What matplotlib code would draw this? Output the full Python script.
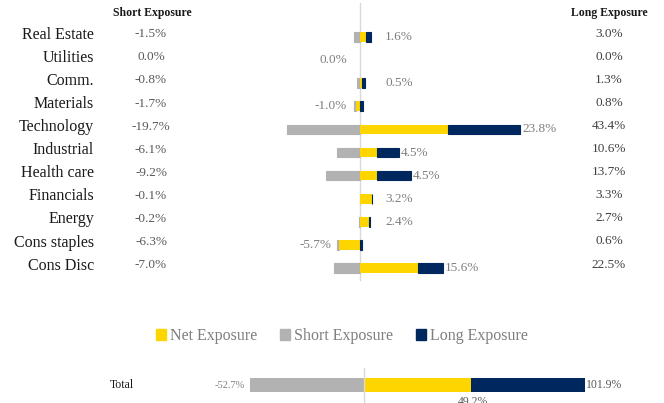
import numpy as np
import matplotlib.pyplot as plt
from matplotlib.patches import Patch
from matplotlib.transforms import blended_transform_factory

# sector exposures (%)
sectors = ["Real Estate", "Utilities", "Comm.", "Materials", "Technology", "Industrial",
           "Health care", "Financials", "Energy", "Cons staples", "Cons Disc"]
short_exp = np.array([-1.5, 0.0, -0.8, -1.7, -19.7, -6.1, -9.2, -0.1, -0.2, -6.3, -7.0])
net_exp = np.array([1.6, 0.0, 0.5, -1.0, 23.8, 4.5, 4.5, 3.2, 2.4, -5.7, 15.6])
long_exp = np.array([3.0, 0.0, 1.3, 0.8, 43.4, 10.6, 13.7, 3.3, 2.7, 0.6, 22.5])

total_short = -52.7
total_net = 49.2
total_long = 101.9

YELLOW = "#FFD500"
NAVY = "#00285E"
GREY = "#B2B2B2"

plt.rcParams['font.family'] = ['Liberation Serif', 'DejaVu Serif']

W, H = 664, 403
fig = plt.figure(figsize=(W / 100, H / 100), dpi=100)
fig.patch.set_facecolor("white")

# ---- main sector chart ----
ax = fig.add_axes([0, 103 / H, 1, 300 / H])
ax.set_xlim(-360 / 3.69, (W - 360) / 3.69)
ax.set_ylim(11.385, -1.602)
ax.axis("off")

y = np.arange(len(sectors))
pos = net_exp >= 0
bh = 0.42

# net bar
ax.barh(y, net_exp, height=bh, color=YELLOW, zorder=3)
# long part: stacked on net when net is positive
lw_long = np.where(pos, long_exp - net_exp, long_exp)
ax.barh(y, lw_long, left=np.where(pos, net_exp, 0), height=bh, color=NAVY,
        edgecolor=np.where(lw_long != 0, NAVY, "none"), lw=0.8, zorder=3)
# short part: stacked on net when net is negative
lw_short = np.where(pos, short_exp, short_exp - net_exp)
ax.barh(y, lw_short, left=np.where(pos, 0, net_exp), height=bh, color=GREY,
        edgecolor=np.where(lw_short != 0, GREY, "none"), lw=0.8, zorder=2.9)

ax.axvline(0, ymin=0.067, ymax=0.99, color="#D9D9D9", lw=1, zorder=2)

# net labels
for i in range(len(sectors)):
    n = net_exp[i]
    if n > 0:
        ax.text(max(long_exp[i] + 0.5, 6.8), i, f"{n:.1f}%", ha="left", va="center",
                fontsize=9.5, color="#7F7F7F")
    else:
        xr = min(min(short_exp[i], n) - 1.3, -3.5)
        ax.text(xr, i, f"{n:.1f}%", ha="right", va="center", fontsize=9.5, color="#7F7F7F")

# table columns
tr = blended_transform_factory(fig.transFigure, ax.transData)
for i, s in enumerate(sectors):
    ax.text(94 / W, i - 0.1, s, transform=tr, ha="right", va="center",
            fontsize=11.5, color="#1A1A1A")
    ax.text(151 / W, i - 0.12, f"{short_exp[i]:.1f}%", transform=tr, ha="center",
            va="center", fontsize=9.5, color="#595959")
    ax.text(609 / W, i - 0.15, f"{long_exp[i]:.1f}%", transform=tr, ha="center",
            va="center", fontsize=9.5, color="#404040")

ax.text(152 / W, -1.04, "Short Exposure", transform=tr, ha="center", va="center",
        fontsize=8.5, fontweight="bold", color="#1A1A1A")
ax.text(609 / W, -1.04, "Long Exposure", transform=tr, ha="center", va="center",
        fontsize=8.5, fontweight="bold", color="#1A1A1A")

# legend
handles = [Patch(color=YELLOW, label="Net Exposure"),
           Patch(color=GREY, label="Short Exposure"),
           Patch(color=NAVY, label="Long Exposure")]
leg = fig.legend(handles=handles, loc="center", bbox_to_anchor=(342 / W, 1 - 336 / H),
                 ncol=3, frameon=False, fontsize=11.5, handlelength=0.65, handleheight=0.65,
                 handletextpad=0.25, columnspacing=1.4)
for t in leg.get_texts():
    t.set_color("#7F7F7F")

# ---- total bar ----
ax2 = fig.add_axes([0, 0, 1, 43 / H])
ax2.set_xlim(-364 / 2.17, (W - 364) / 2.17)
ax2.set_ylim(18, -25)
ax2.axis("off")

ax2.barh([0], [total_net], height=14, color=YELLOW, zorder=3)
ax2.barh([0], [total_long - total_net], left=[total_net], height=14, color=NAVY, zorder=3)
ax2.barh([0], [total_short], height=14, color=GREY, zorder=3)
ax2.axvline(0, ymin=0, ymax=35 / 43, color="#D9D9D9", lw=1, zorder=4)

ax2.text(total_short - 2, 0, f"{total_short:.1f}%", ha="right", va="center",
         fontsize=7.5, color="#7F7F7F")
ax2.text(total_long + 0.5, 0, f"{total_long:.1f}%", ha="left", va="center",
         fontsize=8.5, color="#595959")
ax2.text(total_net + 1, 17, f"{total_net:.1f}%", ha="center", va="center",
         fontsize=8.5, color="#595959")
ax2.text(122 / W, 0, "Total", transform=blended_transform_factory(fig.transFigure, ax2.transData),
         ha="center", va="center", fontsize=8.5, color="#1A1A1A")

fig.savefig("out.png", dpi=100, facecolor="white")
